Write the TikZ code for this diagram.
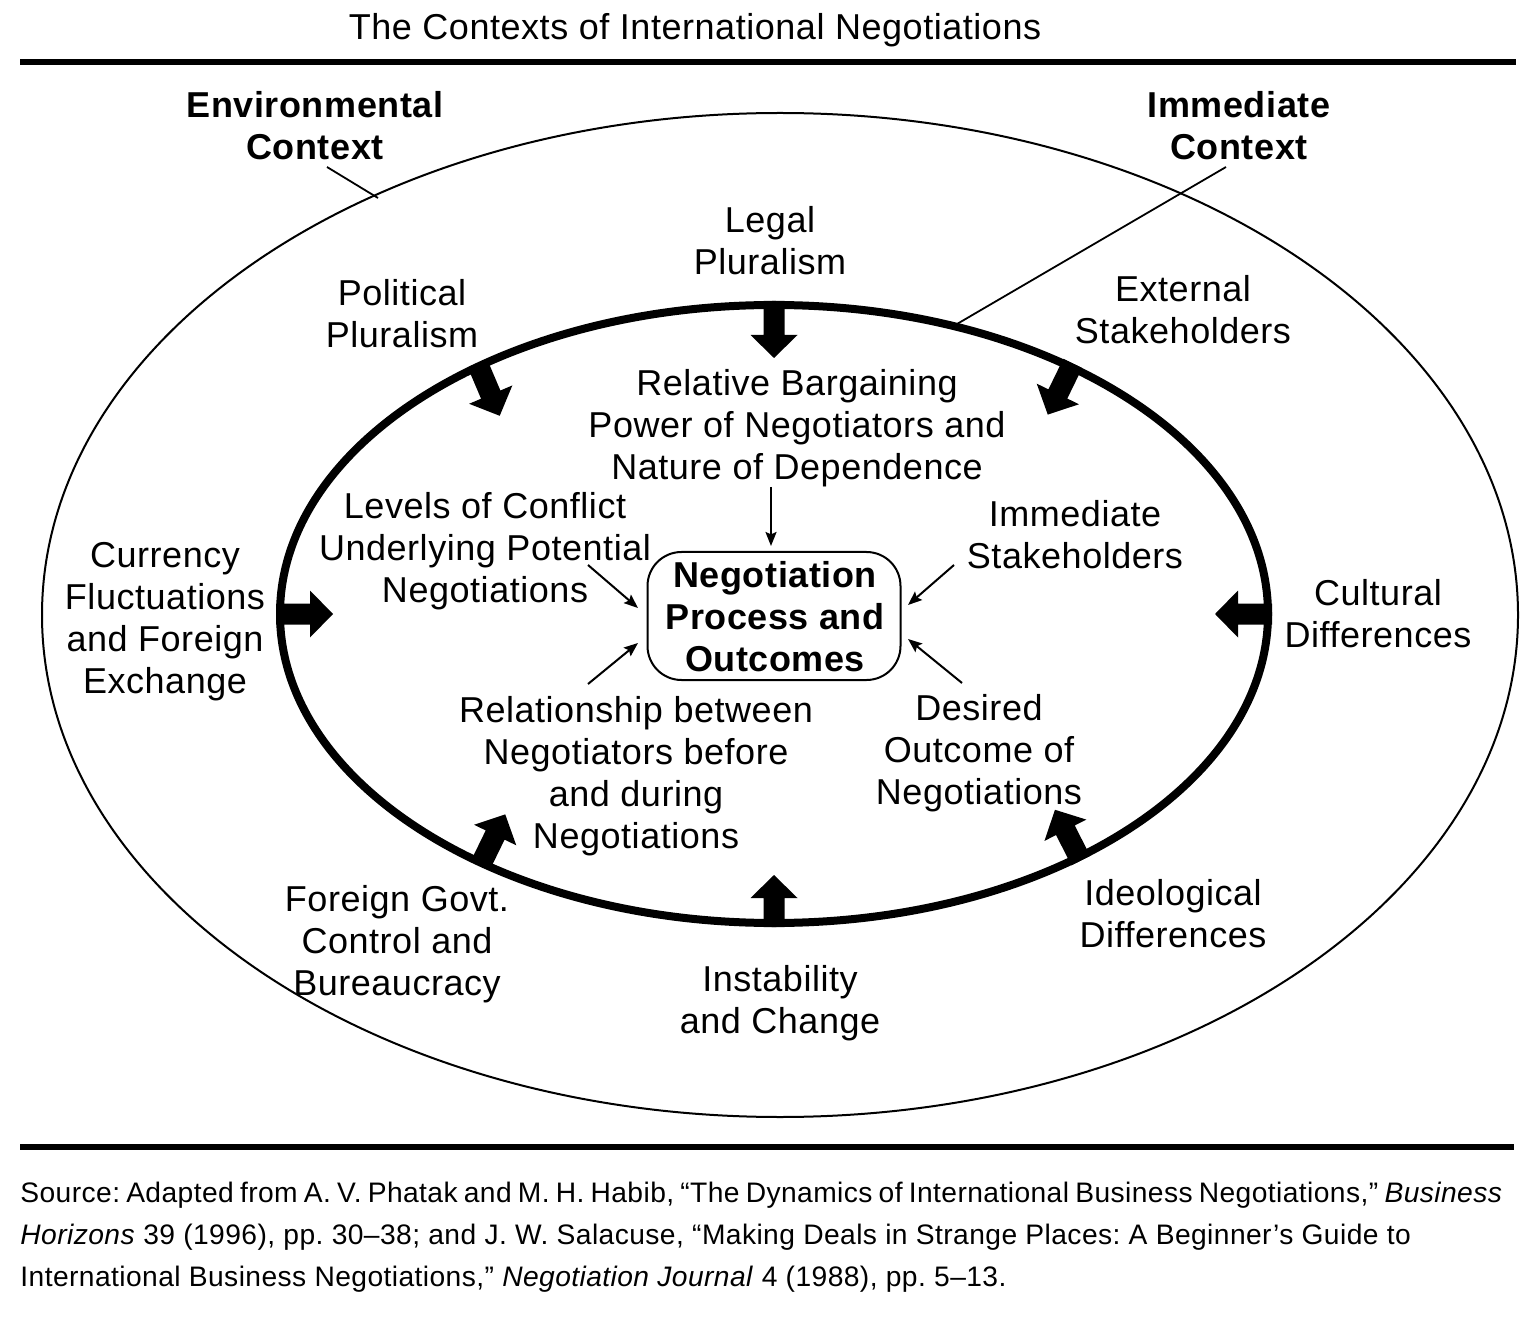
\documentclass[tikz,border=0pt]{standalone}
\usepackage{fontspec}
\setmainfont{Liberation Sans}[LetterSpace=1.5]
\frenchspacing
\usetikzlibrary{arrows.meta,shapes.geometric}
\begin{document}
\begin{tikzpicture}[x=0.5pt,y=-0.5pt,
  lbl/.style={align=center, font=\fontsize{18}{21}\selectfont, inner sep=0pt},
  blbl/.style={align=center, font=\fontsize{18}{21}\selectfont\bfseries, inner sep=0pt},
  srcline/.style={anchor=base west, inner sep=0pt, font=\fontsize{14.1}{21}\selectfont},
  ptr/.style={line width=1pt, -{Stealth[length=7pt,width=5.5pt,inset=1.2pt]}},
  leader/.style={line width=0.9pt},
  rulebar/.style={line width=3pt},
  blockarrow/.pic={\fill[black] (-4,-10.5) -- (30,-10.5) -- (30,-23.5) -- (53,0) -- (30,23.5) -- (30,10.5) -- (-4,10.5) -- cycle;}
]
\useasboundingbox (0,0) rectangle (1536,1320);

% title and rules
\node[lbl] (title) at (695,30) {The Contexts of International Negotiations};
\draw[rulebar] (20,62) -- (1516,62);
\draw[rulebar] (20,1147) -- (1514,1147);

% ellipses
\node[draw, ellipse, line width=1pt, minimum width=738pt, minimum height=502pt, inner sep=0pt] (outer) at (780,615) {};
\draw[line width=4pt] (774,614) ellipse [x radius=494, y radius=309];

% block arrows (on inner ellipse)
\pic[rotate=-90] at (774,305) {blockarrow};
\pic[rotate=-67] at (479,367) {blockarrow};
\pic[rotate=-116] at (1071,367) {blockarrow};
\pic[rotate=0] at (280,614) {blockarrow};
\pic[rotate=180] at (1268,614) {blockarrow};
\pic[rotate=64] at (482,862) {blockarrow};
\pic[rotate=117] at (1079,857) {blockarrow};
\begin{scope}[shift={(774,923)}, rotate=90]
\fill[black] (-4,-10.5) -- (25,-10.5) -- (25,-23.5) -- (48,0) -- (25,23.5) -- (25,10.5) -- (-4,10.5) -- cycle;
\end{scope}

% context labels
\node[blbl] (env) at (315,126) {Environmental\\Context};
\node[blbl] (imm) at (1239,126) {Immediate\\Context};
\coordinate (envA) at (327,167);
\coordinate (envB) at (378,198);
\coordinate (immA) at (1226,167);
\coordinate (immB) at (957,324);
\draw[leader] (envA) -- (envB);
\draw[leader] (immA) -- (immB);

% outer labels
\node[lbl] (legal) at (770,241) {Legal\\Pluralism};
\node[lbl] (polit) at (402,314) {Political\\Pluralism};
\node[lbl] (extst) at (1183,310) {External\\Stakeholders};
\node[lbl] (curr) at (165,622) {Currency\\Fluctuations\\and Foreign\\Exchange};
\node[lbl] (cult) at (1378,614) {Cultural\\Differences};
\node[lbl] (forg) at (397,944) {Foreign Govt.\\Control and\\Bureaucracy};
\node[lbl] (ideo) at (1173,914) {Ideological\\Differences};
\node[lbl] (inst) at (780,1003) {Instability\\and Change};

% inner labels
\node[lbl] (power) at (797,428) {Relative Bargaining\\Power of Negotiators and\\Nature of Dependence};
\node[lbl] (levels) at (485,551) {Levels of Conflict\\Underlying Potential\\Negotiations};
\node[lbl] (immst) at (1075,535) {Immediate\\Stakeholders};
\node[lbl] (rel) at (636,776) {Relationship between\\Negotiators before\\and during\\Negotiations};
\node[lbl] (des) at (979,753) {Desired\\Outcome of\\Negotiations};

% core
\node[draw, line width=1pt, rounded corners=17pt, minimum width=126.5pt, minimum height=64pt, inner sep=0pt] (core) at (774,616) {};
\node[blbl] (coretext) at (775,617) {Negotiation\\Process and\\Outcomes};

% thin pointers
\coordinate (p1a) at (771,487);  \coordinate (p1b) at (771,546);
\coordinate (p2a) at (588,565);  \coordinate (p2b) at (638,608);
\coordinate (p3a) at (588,684);  \coordinate (p3b) at (638,643);
\coordinate (p4a) at (954,565);  \coordinate (p4b) at (908,605);
\coordinate (p5a) at (962,683);  \coordinate (p5b) at (908,639);
\draw[ptr] (p1a) -- (p1b);
\draw[ptr] (p2a) -- (p2b);
\draw[ptr] (p3a) -- (p3b);
\draw[ptr] (p4a) -- (p4b);
\draw[ptr] (p5a) -- (p5b);

% source
\node[srcline] (s1) at (20,1202) {\makebox[741pt][s]{Source: Adapted from A. V. Phatak and M. H. Habib, “The Dynamics of International Business Negotiations,” \textit{Business}}};
\node[srcline] (s2) at (20,1244) {\textit{Horizons} 39 (1996), pp. 30–38; and J. W. Salacuse, “Making Deals in Strange Places: A Beginner’s Guide to};
\node[srcline] (s3) at (20,1286) {International Business Negotiations,” \textit{Negotiation Journal} 4 (1988), pp. 5–13.};
\end{tikzpicture}
\end{document}
